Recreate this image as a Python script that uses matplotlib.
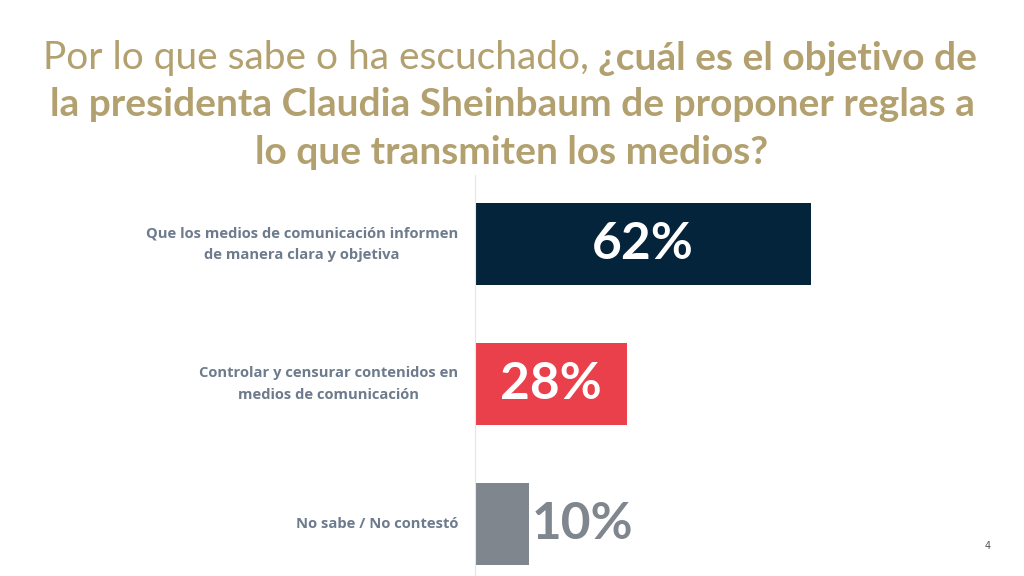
import matplotlib
matplotlib.use("Agg")
import matplotlib.pyplot as plt

categories = [
    "Que los medios de comunicación informen\nde manera clara y objetiva",
    "Controlar y censurar contenidos en\nmedios de comunicación",
    "No sabe / No contestó",
]
values = [62, 28, 10]
bar_colors = ["#03243a", "#e9404b", "#80868e"]
label_colors = ["white", "white", "#80868e"]

TITLE_COLOR = "#b3a06f"
TEXT_COLOR = "#6d7b8d"

fig = plt.figure(figsize=(10.24, 5.76), dpi=100)
ax = fig.add_axes([475 / 1024, 0, 542 / 1024, 401 / 576])

y = list(range(len(categories)))
ax.barh(y, values, height=0.586, color=bar_colors)
ax.set_xlim(0, 100)
ax.set_ylim(2.371, -0.493)

for yi, v, c in zip(y, values, label_colors):
    if c == "white":
        ax.text(v / 2, yi, f"{v}%", ha="center", va="center", color=c,
                fontsize=37, fontweight="bold", family="Lato")
    else:
        ax.text(v + 0.5, yi, f"{v}%", ha="left", va="center", color=c,
                fontsize=37, fontweight="bold", family="Lato")

ax.set_yticks(y)
ax.set_yticklabels(categories, fontsize=10.6, fontweight="bold",
                   family="Open Sans", color=TEXT_COLOR, multialignment="center",
                   linespacing=1.7, va="center")
ax.tick_params(axis="y", length=0, pad=12)
ax.set_xticks([])
for s in ["top", "right", "bottom"]:
    ax.spines[s].set_visible(False)
ax.spines["left"].set_color("#e6e6e6")
ax.spines["left"].set_linewidth(0.8)

# title: regular part then bold part on first line
t1a = "Por lo que sabe o ha escuchado, "
t1b = "¿cuál es el objetivo de"
fs = 28
r1 = fig.text(0.5, 1 - 58 / 576, t1a + t1b, fontsize=fs, family="Lato",
              fontweight="bold", color=TITLE_COLOR, ha="center", va="center", alpha=0)
fig.canvas.draw()
bb = r1.get_window_extent()
left = bb.x0
ta = fig.text(left / 1024, 1 - 58 / 576, t1a, fontsize=fs, family="Lato",
              color=TITLE_COLOR, ha="left", va="center")
fig.canvas.draw()
bba = ta.get_window_extent()
fig.text(bba.x1 / 1024, 1 - 58 / 576, t1b, fontsize=fs, family="Lato",
         fontweight="bold", color=TITLE_COLOR, ha="left", va="center")
fig.text(0.5, 1 - 105 / 576, "la presidenta Claudia Sheinbaum de proponer reglas a",
         fontsize=fs, family="Lato", fontweight="bold", color=TITLE_COLOR,
         ha="center", va="center")
fig.text(0.5, 1 - 152 / 576, "lo que transmiten los medios?",
         fontsize=fs, family="Lato", fontweight="bold", color=TITLE_COLOR,
         ha="center", va="center")

fig.text(988 / 1024, 1 - 546 / 576, "4", fontsize=7, color="#555555",
         ha="center", va="center")

fig.savefig("out.png", dpi=100)
